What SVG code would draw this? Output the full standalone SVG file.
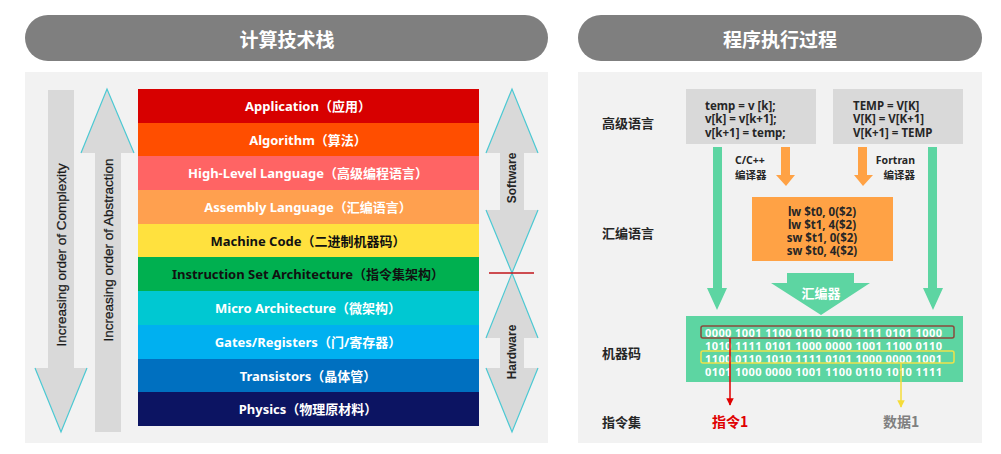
<svg xmlns="http://www.w3.org/2000/svg" width="1001" height="454" viewBox="0 0 1001 454">
<defs>
<style>
.banner{fill:#7f7f7f}
.bt{font-family:"Noto Sans CJK SC","Noto Sans",sans-serif;font-size:19px;font-weight:bold;fill:#fff;text-anchor:middle;dominant-baseline:central}
.panel{fill:#f2f2f2}
.lt{font-family:"Noto Sans","Noto Sans CJK SC",sans-serif;font-size:13px;font-weight:bold;fill:#fff;text-anchor:middle;dominant-baseline:central}
.dk{fill:#111}
.gar{fill:#d9d9d9}
.cy{fill:none;stroke:#4cc9d3;stroke-width:1.2}
.vt{font-family:"Liberation Sans",Arial,sans-serif;font-size:13.5px;fill:#1a1a1a;text-anchor:middle;dominant-baseline:central;stroke:#1a1a1a;stroke-width:0.25}
.sh{font-family:"Liberation Sans",Arial,sans-serif;font-size:12px;font-weight:bold;fill:#262626;text-anchor:middle;dominant-baseline:central}
.lab{font-family:"Noto Sans CJK SC",sans-serif;font-size:13px;font-weight:bold;fill:#262626;dominant-baseline:central}
.code{font-family:"Noto Sans","Noto Sans CJK SC",sans-serif;font-size:11.5px;font-weight:bold;fill:#262626;dominant-baseline:central}
.sm{font-family:"Noto Sans","Noto Sans CJK SC",sans-serif;font-size:10.5px;font-weight:bold;fill:#262626;dominant-baseline:central}
.bin{font-family:"Noto Sans",sans-serif;font-size:11px;font-weight:bold;fill:#fff;dominant-baseline:central}
.grn{fill:#5dd5a2}
.org{fill:#ffa245}
</style>
<marker id="ar" viewBox="0 0 10 10" refX="9" refY="5" markerWidth="5" markerHeight="5" orient="auto"><path d="M0,0 L10,5 L0,10 z" fill="#e00000"/></marker>
<marker id="ay" viewBox="0 0 10 10" refX="9" refY="5" markerWidth="5" markerHeight="5" orient="auto"><path d="M0,0 L10,5 L0,10 z" fill="#f5dc3a"/></marker>
</defs>
<rect width="1001" height="454" fill="#fff"/>

<g id="banner-left"><rect class="banner" x="25" y="15" width="523" height="46" rx="23"/><text class="bt" x="287" y="38">计算技术栈</text></g>
<g id="banner-right"><rect class="banner" x="578" y="15" width="404" height="46" rx="23"/><text class="bt" x="780" y="38">程序执行过程</text></g>

<rect class="panel" x="25" y="72" width="523" height="371"/>
<rect class="panel" x="578" y="72" width="404" height="371"/>

<g id="arrow-complexity">
<polygon class="gar" points="48,90 74,90 74,368 87,368 61,432 35,368 48,368"/>
<polyline class="cy" points="35,368 61,432 87,368"/>
<text class="vt" transform="translate(61,255) rotate(-90)">Increasing order of Complexity</text>
</g>
<g id="arrow-abstraction">
<polygon class="gar" points="107,89 134,153 121,153 121,432 95,432 95,153 81,153"/>
<polyline class="cy" points="81,153 107,89 134,153"/>
<text class="vt" transform="translate(108,250) rotate(-90)">Increasing order of Abstraction</text>
</g>

<g id="stack">
<g id="l-app"><rect x="138" y="89" width="341" height="34" fill="#d70000"/><text class="lt" x="308" y="106">Application（应用）</text></g>
<g id="l-alg"><rect x="138" y="123" width="341" height="33" fill="#ff4e00"/><text class="lt" x="308" y="140">Algorithm（算法）</text></g>
<g id="l-hll"><rect x="138" y="156" width="341" height="34" fill="#ff6464"/><text class="lt" x="308" y="173">High-Level Language（高级编程语言）</text></g>
<g id="l-asm"><rect x="138" y="190" width="341" height="34" fill="#ffa04f"/><text class="lt" x="308" y="207">Assembly Language（汇编语言）</text></g>
<g id="l-mc"><rect x="138" y="224" width="341" height="33" fill="#ffe13e"/><text class="lt dk" x="308" y="241">Machine Code（二进制机器码）</text></g>
<g id="l-isa"><rect x="138" y="257" width="341" height="34" fill="#00b050"/><text class="lt dk" x="308" y="274">Instruction Set Architecture（指令集架构）</text></g>
<g id="l-micro"><rect x="138" y="291" width="341" height="34" fill="#00c8d2"/><text class="lt" x="308" y="308">Micro Architecture（微架构）</text></g>
<g id="l-gates"><rect x="138" y="325" width="341" height="34" fill="#00b0f0"/><text class="lt" x="308" y="342">Gates/Registers（门/寄存器）</text></g>
<g id="l-trans"><rect x="138" y="359" width="341" height="33" fill="#0070c0"/><text class="lt" x="308" y="376">Transistors（晶体管）</text></g>
<g id="l-phys"><rect x="138" y="392" width="341" height="34" fill="#0c1462"/><text class="lt" x="308" y="409">Physics（物理原材料）</text></g>
</g>

<g id="arrow-software">
<polygon class="gar" points="512,89 538,153 524,153 524,210 538,210 512,273 486,210 500,210 500,153 486,153"/>
<polyline class="cy" points="486,153 512,89 538,153"/>
<polyline class="cy" points="486,210 512,273 538,210"/>
<text class="sh" transform="translate(512,178) rotate(-90)">Software</text>
</g>
<g id="arrow-hardware">
<polygon class="gar" points="512,273 538,338 524,338 524,368 538,368 512,432 486,368 500,368 500,338 486,338"/>
<polyline class="cy" points="486,338 512,273 538,338"/>
<polyline class="cy" points="486,368 512,432 538,368"/>
<text class="sh" transform="translate(512,352) rotate(-90)">Hardware</text>
</g>
<line x1="489" y1="273" x2="534" y2="273" stroke="#c0141a" stroke-width="1.5"/>

<g id="row-labels">
<text class="lab" x="602" y="122">高级语言</text>
<text class="lab" x="602" y="232">汇编语言</text>
<text class="lab" x="602" y="352">机器码</text>
<text class="lab" x="602" y="421">指令集</text>
</g>

<g id="box-c"><rect x="686" y="89" width="130" height="55" fill="#d9d9d9"/>
<text class="code" x="705" y="105">temp = v [k];</text>
<text class="code" x="705" y="118">v[k] = v[k+1];</text>
<text class="code" x="705" y="132">v[k+1] = temp;</text></g>
<g id="box-fortran"><rect x="833" y="89" width="130" height="55" fill="#d9d9d9"/>
<text class="code" x="853" y="105">TEMP = V[K]</text>
<text class="code" x="853" y="118">V[K] = V[K+1]</text>
<text class="code" x="853" y="132">V[K+1] = TEMP</text></g>

<g id="box-asm"><rect x="752" y="197" width="141" height="64" fill="#ffa245"/>
<text class="code" x="822" y="211" text-anchor="middle">lw $t0, 0($2)</text>
<text class="code" x="822" y="224" text-anchor="middle">lw $t1, 4($2)</text>
<text class="code" x="822" y="237" text-anchor="middle">sw $t1, 0($2)</text>
<text class="code" x="822" y="250" text-anchor="middle">sw $t0, 4($2)</text></g>

<g id="box-mc"><rect x="686" y="316" width="277" height="66" class="grn"/>
<text class="bin" x="705" y="332" textLength="237">0000 1001 1100 0110 1010 1111 0101 1000</text>
<text class="bin" x="705" y="345" textLength="237">1010 1111 0101 1000 0000 1001 1100 0110</text>
<text class="bin" x="705" y="358" textLength="237">1100 0110 1010 1111 0101 1000 0000 1001</text>
<text class="bin" x="705" y="371" textLength="237">0101 1000 0000 1001 1100 0110 1010 1111</text>
<rect x="701" y="326" width="253" height="12" rx="2" fill="none" stroke="#8a4a3c" stroke-width="1.5"/>
<rect x="701" y="351" width="253" height="12" rx="2" fill="none" stroke="#eee24a" stroke-width="1.5"/>
</g>

<g id="connectors">
<polygon class="grn" points="713,147 722,147 722,288 727,288 717,310 707,288 713,288"/>
<polygon class="grn" points="928,147 937,147 937,288 943,288 933,310 923,288 928,288"/>
<polygon class="org" points="781,147 790,147 790,175 795,175 786,186 776,175 781,175"/>
<polygon class="org" points="858,147 867,147 867,175 873,175 863,186 854,175 858,175"/>
<g id="assembler-arrow"><polygon class="grn" points="787,273 854,273 854,283 870,283 821,315 771,283 787,283"/>
<text class="lab" x="821" y="292" text-anchor="middle" style="fill:#fff">汇编器</text></g>
<line x1="730" y1="338" x2="730" y2="405" stroke="#e00000" stroke-width="1.5" marker-end="url(#ar)"/>
<line x1="901" y1="363" x2="901" y2="407" stroke="#f5dc3a" stroke-width="1.5" marker-end="url(#ay)"/>
</g>

<text class="sm" x="735" y="160">C/C++</text>
<text class="sm" x="735" y="175">编译器</text>
<text class="sm" x="915" y="160" text-anchor="end">Fortran</text>
<text class="sm" x="915" y="175" text-anchor="end">编译器</text>

<text class="lab" x="712" y="421" style="fill:#e00000;font-size:14px">指令1</text>
<text class="lab" x="883" y="421" style="fill:#808080;font-size:14px">数据1</text>
</svg>
